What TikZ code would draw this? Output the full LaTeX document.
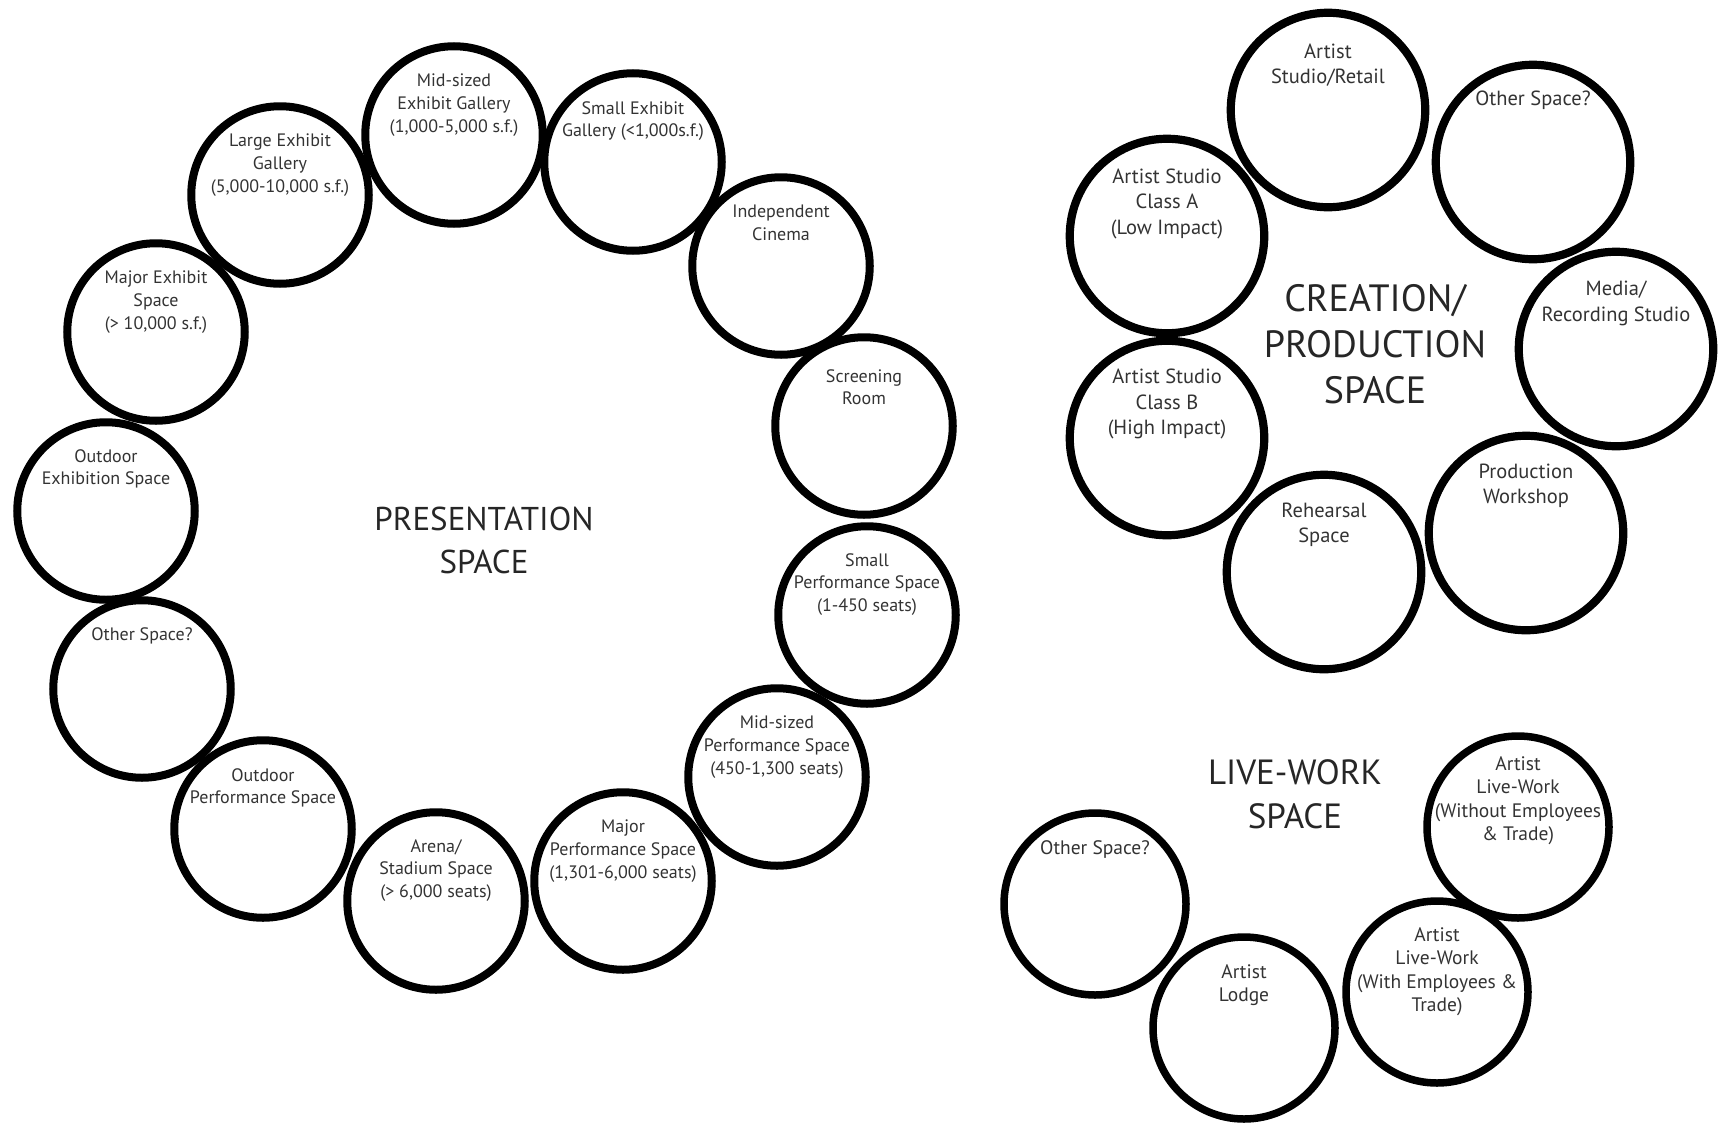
\documentclass[tikz,border=0pt]{standalone}
\usepackage{fontspec}
\setmainfont{PT Sans}
\usetikzlibrary{positioning}

\begin{document}
\begin{tikzpicture}[
    x=1pt, y=-1pt,
    every node/.style={align=center, inner sep=0pt},
    room/.style={circle, draw, line width=8pt, minimum size=177.5pt},
    studio/.style={room, line width=8.2pt, minimum size=194.5pt},
    dwelling/.style={room, line width=7.5pt, minimum size=182pt},
    tag/.style={anchor=north, text=black!80, font=\fontsize{18}{22.7}\selectfont},
    tagb/.style={tag, font=\fontsize{20.5}{25.2}\selectfont},
    tagc/.style={tag, font=\fontsize{19.5}{23.5}\selectfont},
    heading/.style={text=black!85, font=\fontsize{33}{43}\selectfont}
]
    \useasboundingbox (0,0) rectangle (1718,1127);

    % presentation ring
    \node[room] (largeexh) at (280,195) {};
    \node[room] (midexh) at (454,135) {};
    \node[room] (smallexh) at (633,162) {};
    \node[room] (cinema) at (781,266) {};
    \node[room] (screening) at (864,426) {};
    \node[room] (smallperf) at (867,615) {};
    \node[room] (midperf) at (777,777) {};
    \node[room] (majorperf) at (623,881) {};
    \node[room] (arena) at (436,901) {};
    \node[room] (outperf) at (263,829) {};
    \node[room] (otherpres) at (142,689) {};
    \node[room] (outexh) at (106,511) {};
    \node[room] (majorexh) at (156,332) {};

    \node[tag] (largeexh-t) at ([yshift=61pt]largeexh.center) {Large Exhibit\\Gallery\\(5,000-10,000 s.f.)};
    \node[tag] (midexh-t) at ([yshift=61pt]midexh.center) {Mid-sized\\Exhibit Gallery\\(1,000-5,000 s.f.)};
    \node[tag] (smallexh-t) at ([yshift=61pt]smallexh.center) {Small Exhibit\\Gallery (<1,000s.f.)};
    \node[tag] (cinema-t) at ([yshift=61pt]cinema.center) {Independent\\Cinema};
    \node[tag] (screening-t) at ([yshift=57pt]screening.center) {Screening\\Room};
    \node[tag] (smallperf-t) at ([yshift=62pt]smallperf.center) {Small\\Performance Space\\(1-450 seats)};
    \node[tag] (midperf-t) at ([yshift=61pt]midperf.center) {Mid-sized\\Performance Space\\(450-1,300 seats)};
    \node[tag] (majorperf-t) at ([yshift=61pt]majorperf.center) {Major\\Performance Space\\(1,301-6,000 seats)};
    \node[tag] (arena-t) at ([yshift=62pt]arena.center) {Arena/\\Stadium Space\\(> 6,000 seats)};
    \node[tag] (outperf-t) at ([yshift=61pt]outperf.center) {Outdoor\\Performance Space};
    \node[tag] (otherpres-t) at ([yshift=62pt]otherpres.center) {Other Space?};
    \node[tag] (outexh-t) at ([yshift=62pt]outexh.center) {Outdoor\\Exhibition Space};
    \node[tag] (majorexh-t) at ([yshift=61pt]majorexh.center) {Major Exhibit\\Space\\(> 10,000 s.f.)};

    \node[heading] (presentation) at (484,540) {PRESENTATION\\SPACE};

    % creation / production cluster
    \node[studio] (retail) at (1328,110) {};
    \node[studio] (othercre) at (1533,162) {};
    \node[studio] (classa) at (1167,236) {};
    \node[studio] (media) at (1616,349) {};
    \node[studio] (classb) at (1167,438) {};
    \node[studio] (workshop) at (1526,533) {};
    \node[studio] (rehearsal) at (1324,572) {};

    \node[tagb] (retail-t) at ([yshift=66pt]retail.center) {Artist\\Studio/Retail};
    \node[tagb] (othercre-t) at ([yshift=71pt]othercre.center) {Other Space?};
    \node[tagb] (classa-t) at ([yshift=67pt]classa.center) {Artist Studio\\Class A\\(Low Impact)};
    \node[tagb] (media-t) at ([yshift=68pt]media.center) {Media/\\Recording Studio};
    \node[tagb] (classb-t) at ([yshift=69pt]classb.center) {Artist Studio\\Class B\\(High Impact)};
    \node[tagb] (workshop-t) at ([yshift=69pt]workshop.center) {Production\\Workshop};
    \node[tagb] (rehearsal-t) at ([yshift=69pt]rehearsal.center) {Rehearsal\\Space};

    \node[heading, font=\fontsize{38}{46}\selectfont] (creation) at (1375,344) {CREATION/\\PRODUCTION\\SPACE};

    % live-work cluster
    \node[dwelling] (otherlive) at (1095,904) {};
    \node[dwelling] (lodge) at (1244,1028) {};
    \node[dwelling] (withemp) at (1437,992) {};
    \node[dwelling] (withoutemp) at (1518,827) {};

    \node[tagc] (otherlive-t) at ([yshift=64pt]otherlive.center) {Other Space?};
    \node[tagc] (lodge-t) at ([yshift=64pt]lodge.center) {Artist\\Lodge};
    \node[tagc] (withemp-t) at ([yshift=65pt]withemp.center) {Artist\\Live-Work\\(With Employees \&\\Trade)};
    \node[tagc] (withoutemp-t) at ([yshift=71pt]withoutemp.center) {Artist\\Live-Work\\(Without Employees\\\& Trade)};

    \node[heading, font=\fontsize{35}{44}\selectfont] (livework) at (1295,794) {LIVE-WORK\\SPACE};
\end{tikzpicture}
\end{document}
